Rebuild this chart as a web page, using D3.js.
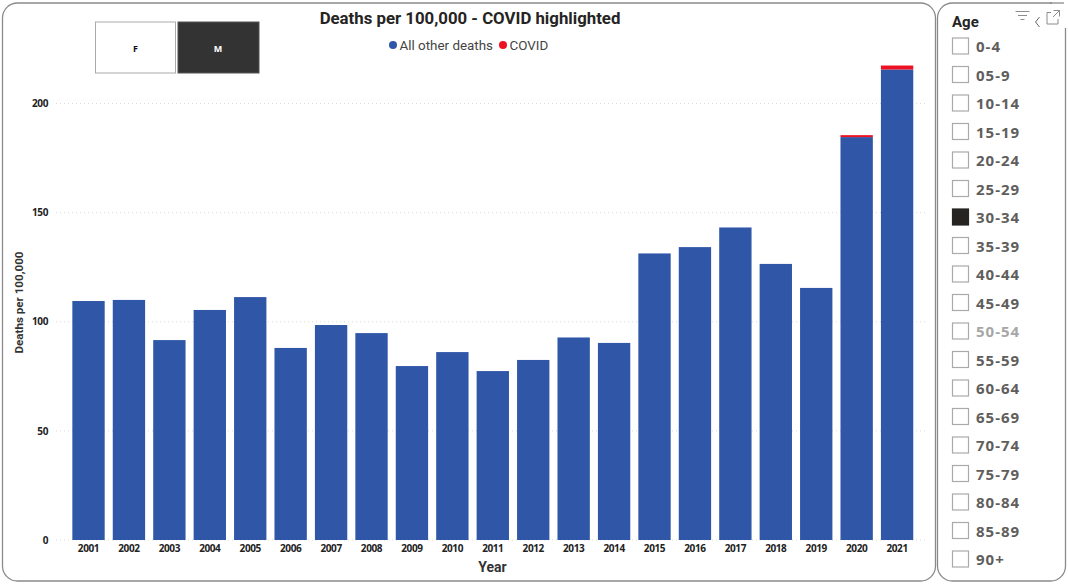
<!DOCTYPE html>
<html>
<head>
<meta charset="utf-8">
<script src="https://cdn.jsdelivr.net/npm/d3@7"></script>
<style>
html,body{margin:0;padding:0;background:#fff;}
svg{display:block;}
text{font-family:"Open Sans",sans-serif;}
.axis path,.axis line{display:none;}
</style>
</head>
<body>
<div id="chart"></div>
<script>
const years = [2001,2002,2003,2004,2005,2006,2007,2008,2009,2010,2011,2012,2013,2014,2015,2016,2017,2018,2019,2020,2021];
const otherDeaths = [109.5,110,91.6,105.4,111.3,88,98.5,94.8,79.7,86.1,77.4,82.5,92.8,90.3,131.3,134.2,143.2,126.5,115.5,184.6,215.6];
const covidDeaths = [0,0,0,0,0,0,0,0,0,0,0,0,0,0,0,0,0,0,0,0.9,1.8];
const yTicks = [0,50,100,150,200];
const ages = ["0-4","05-9","10-14","15-19","20-24","25-29","30-34","35-39","40-44","45-49","50-54","55-59","60-64","65-69","70-74","75-79","80-84","85-89","90+"];
const selectedAge = "30-34";
const hoverAge = "50-54";
const legendItems = [["All other deaths","#3056a8"],["COVID","#ee1122"]];

const svg = d3.select("#chart").append("svg").attr("width",1068).attr("height",584);
const title = "Deaths per 100,000 - COVID highlighted";

// panels
svg.append("rect").attr("x",2.5).attr("y",3).attr("width",933).attr("height",578).attr("rx",15)
    .attr("fill","#fff").attr("stroke","#8a8a8a").attr("stroke-width",1.3);
svg.append("rect").attr("x",937.5).attr("y",3).attr("width",128).attr("height",578).attr("rx",15)
    .attr("fill","#fff").attr("stroke","#8a8a8a").attr("stroke-width",1.3);
// header strip hides the slicer's top right corner
svg.append("rect").attr("x",1052).attr("y",0).attr("width",16).attr("height",28).attr("fill","#fff");
svg.append("line").attr("x1",1050).attr("x2",1064).attr("y1",3).attr("y2",3)
    .attr("stroke","#8a8a8a").attr("stroke-width",1.3);

const x = d3.scaleBand().domain(years).range([68.3,917.3]).paddingInner(0.2).paddingOuter(0.1);
const y = d3.scaleLinear().domain([0,200]).range([540,103.5]);

// grid
svg.append("g").selectAll("line").data(yTicks).enter().append("line")
    .attr("x1",56).attr("x2",925)
    .attr("y1",d=>y(d)).attr("y2",d=>y(d))
    .attr("stroke","#d9d9d9").attr("stroke-width",1).attr("stroke-dasharray","1 3");

// bars
const stack = years.map((yr,i)=>({year:yr,other:otherDeaths[i],covid:covidDeaths[i]}));
svg.append("g").selectAll("rect").data(stack).enter().append("rect")
    .attr("x",d=>x(d.year)).attr("width",x.bandwidth())
    .attr("y",d=>y(d.other)).attr("height",d=>y(0)-y(d.other))
    .attr("fill",legendItems[0][1]);
svg.append("g").selectAll("rect").data(stack.filter(d=>d.covid>0)).enter().append("rect")
    .attr("x",d=>x(d.year)).attr("width",x.bandwidth())
    .attr("y",d=>y(d.other+d.covid)).attr("height",d=>y(d.other)-y(d.other+d.covid))
    .attr("fill",legendItems[1][1]);

// axes
const yAxis = svg.append("g").attr("class","axis").attr("transform","translate(48,0)")
    .call(d3.axisLeft(y).tickValues(yTicks).tickSize(0).tickPadding(0));
yAxis.selectAll("text").attr("font-size",10).attr("font-weight",700).attr("fill","#222")
    .style("letter-spacing","-0.4px").style("font-family","'Open Sans',sans-serif");
const xAxis = svg.append("g").attr("class","axis").attr("transform","translate(0,545)")
    .call(d3.axisBottom(x).tickFormat(d3.format("d")).tickSize(0).tickPadding(0));
xAxis.selectAll("text").attr("font-size",10).attr("font-weight",700).attr("fill","#222")
    .style("letter-spacing","-0.4px").style("font-family","'Open Sans',sans-serif");

svg.append("text").attr("x",492.5).attr("y",572).attr("text-anchor","middle")
    .attr("font-size",14).attr("font-weight",700).attr("fill","#333")
    .style("font-family","Roboto").text("Year");
svg.append("text").attr("transform","translate(23,302.5) rotate(-90)").attr("text-anchor","middle")
    .attr("font-size",11.6).attr("font-weight",700).attr("fill","#333")
    .style("font-family","Roboto").text("Deaths per 100,000");

// title + legend
svg.append("text").attr("x",470).attr("y",24).attr("text-anchor","middle")
    .attr("font-size",16.8).attr("font-weight",700).attr("fill","#252423")
    .style("font-family","Roboto").text(title);
const legendX = [393,503];
legendItems.forEach((it,i)=>{
    svg.append("circle").attr("cx",legendX[i]).attr("cy",45).attr("r",4).attr("fill",it[1]);
    svg.append("text").attr("x",legendX[i]+6.5).attr("y",50).attr("font-size",13.4).attr("fill","#444")
        .style("font-family","Roboto").text(it[0]);
});

// F / M buttons
const sexes = [["F",95.5,"#fff","#111","#aaa"],["M",178,"#333","#fff","#555"]];
sexes.forEach(s=>{
    svg.append("rect").attr("x",s[1]).attr("y",22).attr("width",s[0]=="F"?80:81).attr("height",51)
        .attr("fill",s[2]).attr("stroke",s[4]);
    svg.append("text").attr("x",s[1]+40).attr("y",52).attr("text-anchor","middle")
        .attr("font-size",9).attr("font-weight",700).attr("fill",s[3]).text(s[0]);
});

// age slicer
svg.append("text").attr("x",952).attr("y",27).attr("font-size",15).attr("font-weight",700).attr("fill","#252423")
    .style("font-family","Roboto").text("Age");
const rowY = d3.scalePoint().domain(ages).range([46,559]);
const rows = svg.append("g").selectAll("g").data(ages).enter().append("g")
    .attr("transform",d=>`translate(0,${rowY(d)})`);
rows.append("rect").attr("x",952.5).attr("y",-8).attr("width",16).attr("height",16)
    .attr("fill",d=>d==selectedAge?"#252423":"#fff")
    .attr("stroke",d=>d==selectedAge?"#252423":"#aaa").attr("stroke-width",1.2);
rows.append("text").attr("x",976).attr("y",6).attr("font-size",15).attr("font-weight",700)
    .style("letter-spacing","1px")
    .attr("fill",d=>d==hoverAge?"#a6a6a6":"#605e5c").text(d=>d);

// header icons
const icons = svg.append("g").attr("fill","none").attr("stroke","#8c8c8c").attr("stroke-width",1);
icons.append("path").attr("d","M1015.5 11.5H1029.5M1018 15.5H1027M1020.5 19.5H1024.5");
icons.append("path").attr("d","M1039.5 17L1035.5 22L1039.5 27").attr("stroke","#666");
icons.append("path").attr("d","M1051 12.5H1047V24H1058V19M1053.5 10.5H1059.5V16.5M1059.5 10.5L1053 17");
</script>
</body>
</html>
